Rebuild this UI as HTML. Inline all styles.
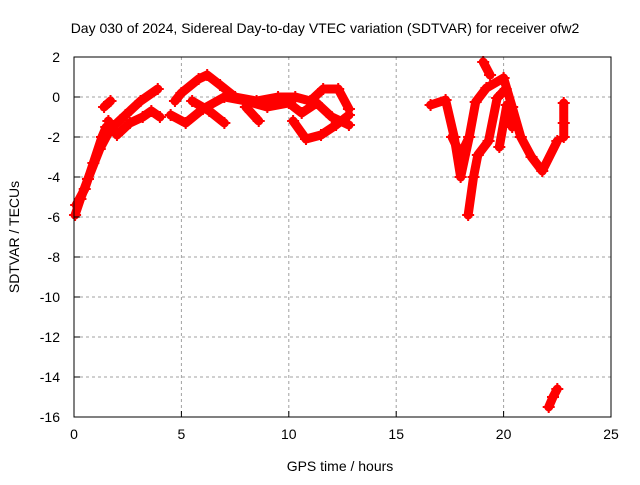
<!DOCTYPE html>
<html><head><meta charset="utf-8"><style>
body{margin:0;background:#fff;}
svg text{font-family:"Liberation Sans",sans-serif;font-size:14px;fill:#000;}
</style></head><body>
<svg id="chart" width="640" height="480" viewBox="0 0 640 480" xmlns="http://www.w3.org/2000/svg">
<rect width="640" height="480" fill="#fff"/>
<text x="325" y="33" text-anchor="middle">Day 030 of 2024, Sidereal Day-to-day VTEC variation (SDTVAR) for receiver ofw2</text>
<g id="grid"></g>
<g id="series"></g>
<rect x="74" y="57" width="537" height="360" fill="none" stroke="#000" stroke-width="1"/>
<g id="ticks"></g>
<text x="340" y="471" text-anchor="middle">GPS time / hours</text>
<text transform="translate(19,237) rotate(-90)" text-anchor="middle">SDTVAR / TECUs</text>
</svg>
<script>
const xTicks=[0,5,10,15,20,25];
const yTicks=[2,0,-2,-4,-6,-8,-10,-12,-14,-16];
const trackA=[[0.05,-5.9],[0.3,-5.1],[0.65,-4.1],[1.2,-2.6],[1.7,-1.6],[2.4,-0.9],[3.1,-0.2],[3.9,0.4]];
const trackA2=[[0.1,-5.4],[0.5,-4.6],[0.9,-3.3],[1.3,-2.0],[1.5,-1.5]];
const trackB=[[1.6,-1.2],[2.0,-1.9],[2.6,-1.3],[3.2,-1.0],[3.6,-0.7],[4.0,-1.0]];
const trackB2=[[1.4,-0.5],[1.7,-0.2]];
const trackC=[[4.7,-0.2],[5.0,0.2],[5.8,0.9],[6.2,1.1],[6.8,0.6],[7.5,0.0],[8.5,-0.2],[9.5,0.0],[10.3,0.0],[11.0,-0.2],[11.6,0.4],[12.3,0.4],[12.8,-0.6]];
const trackD=[[4.5,-0.9],[5.2,-1.3],[6.0,-0.6],[7.0,0.0],[8.0,-0.2],[9.0,-0.5],[10.0,-0.3],[10.6,-0.8],[11.3,-0.3],[12.0,-1.0],[12.8,-1.4]];
const trackE=[[5.5,-0.2],[6.3,-0.7],[7.0,-1.3]];
const trackE2=[[8.0,-0.5],[8.6,-1.2]];
const trackE3=[[10.2,-1.2],[10.8,-2.1],[11.5,-1.9],[12.2,-1.4],[12.8,-0.9]];
const trackG=[[16.6,-0.4],[17.3,-0.15],[17.7,-2.0],[18.0,-4.0],[18.4,-2.0],[18.7,-0.25],[19.2,0.45],[20.0,0.95],[20.4,-0.5],[20.8,-2.0],[21.3,-3.0],[21.8,-3.7],[22.5,-2.2]];
const trackG2=[[17.6,-2.0],[18.0,-2.9],[18.4,-2.0]];
const trackH=[[18.35,-5.9],[18.6,-4.0],[18.8,-2.9],[19.3,-2.2],[19.7,-0.05],[20.1,0.4]];
const trackI=[[19.05,1.75],[19.37,1.1]];
const trackJ=[[19.8,-2.5],[20.15,-0.4],[20.4,-1.5]];
const trackK=[[22.8,-0.3],[22.8,-1.3],[22.8,-2.0]];
const trackL=[[22.1,-15.5],[22.3,-15.0],[22.5,-14.6]];
const tracks=[trackA,trackA2,trackB,trackB2,trackC,trackD,trackE,trackE2,trackE3,trackG,trackG2,trackH,trackI,trackJ,trackK,trackL];
const X0=74,X1=611,Y0=57,Y1=417,XMIN=0,XMAX=25,YMIN=-16,YMAX=2;
function sx(v){return X0+(v-XMIN)/(XMAX-XMIN)*(X1-X0);}
function sy(v){return Y1-(v-YMIN)/(YMAX-YMIN)*(Y1-Y0);}
const NS='http://www.w3.org/2000/svg';
function mk(tag,attrs,parent){const e=document.createElementNS(NS,tag);for(const k in attrs)e.setAttribute(k,attrs[k]);parent.appendChild(e);return e;}
const grid=document.getElementById('grid'),ticks=document.getElementById('ticks'),series=document.getElementById('series');
xTicks.forEach(t=>{
  const x=sx(t);
  if(t>XMIN&&t<XMAX){const g=mk('line',{x1:x,y1:Y0,x2:x,y2:Y1,stroke:'#a0a0a0','stroke-dasharray':'3,3'},grid);
  
  }
  const l=mk('line',{x1:x,y1:Y1,x2:x,y2:Y1-6,stroke:'#000'},ticks);
  
  
  const tx=mk('text',{x:x,y:Y1+22,'text-anchor':'middle'},ticks);tx.textContent=t;
  
  
});
yTicks.forEach(t=>{
  const y=sy(t);
  if(t>YMIN&&t<YMAX){const g=mk('line',{x1:X0,y1:y,x2:X1,y2:y,stroke:'#a0a0a0','stroke-dasharray':'3,3'},grid);
  
  }
  const l=mk('line',{x1:X0,y1:y,x2:X0+6,y2:y,stroke:'#000'},ticks);
  
  
  const tx=mk('text',{x:X0-14,y:y+5,'text-anchor':'end'},ticks);tx.textContent=t;
  
  
});
tracks.forEach(tr=>{
  const p=mk('polyline',{points:tr.map(d=>sx(d[0])+','+sy(d[1])).join(' '),fill:'none',stroke:'#ff0000','stroke-width':9,'stroke-linejoin':'round','stroke-linecap':'round'},series);
  
  
  tr.forEach(d=>{
    const x=sx(d[0]),y=sy(d[1]);
    const m=mk('path',{d:`M${x-6},${y}H${x+6}M${x},${y-6}V${y+6}`,stroke:'#ff0000','stroke-width':2},series);
    
    
  });
});
</script>
</body></html>
